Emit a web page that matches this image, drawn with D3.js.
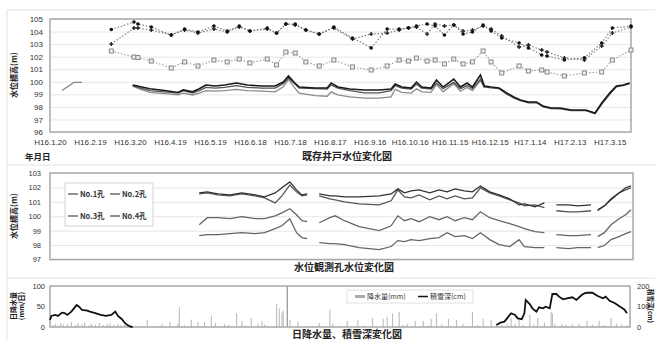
<!DOCTYPE html>
<html><head><meta charset="utf-8">
<script src="https://cdn.jsdelivr.net/npm/d3@7"></script>
<style>
body{margin:0;background:#fff;}
svg{display:block;font-family:"Liberation Sans",Arial,sans-serif;}
.jp{font-family:"Noto Sans CJK JP",sans-serif;}
</style></head><body>
<svg id="c" width="655" height="340"></svg>
<script>
// ---- shared time axis ----
const tickDates = ["2004-01-20","2004-02-19","2004-03-20","2004-04-19","2004-05-19","2004-06-18","2004-07-18","2004-08-17","2004-09-16","2004-10-16","2004-11-15","2004-12-15","2005-01-14","2005-02-13","2005-03-15"];
const tickLabels = ["H16.1.20","H16.2.19","H16.3.20","H16.4.19","H16.5.19","H16.6.18","H16.7.18","H16.8.17","H16.9.16","H16.10.16","H16.11.15","H16.12.15","H17.1.14","H17.2.13","H17.3.15"];

// ---- existing wells: periodic readings (m) ----
const wellDates = ["2004-03-06","2004-03-23","2004-03-26","2004-04-05","2004-04-20","2004-04-30","2004-05-10","2004-05-22","2004-06-01","2004-06-10","2004-06-18","2004-07-01","2004-07-08","2004-07-15","2004-07-22","2004-07-30","2004-08-09","2004-08-20","2004-09-03","2004-09-17","2004-09-29","2004-10-08","2004-10-15","2004-10-21","2004-10-29","2004-11-04","2004-11-11","2004-11-18","2004-11-25","2004-12-02","2004-12-10","2004-12-16","2004-12-24","2005-01-06","2005-01-13","2005-01-23","2005-01-27","2005-02-09","2005-02-24","2005-03-09","2005-03-17","2005-03-31"];
const wellA = [104.16,104.76,104.6,104.36,103.73,104.2,103.96,104.44,104.04,104.44,104.04,104.28,103.88,104.6,104.6,104.12,103.8,104.36,103.49,102.7,104.2,104.2,104.3,104.44,104.6,104.44,103.73,104.52,103.8,103.96,104.52,104.04,103.49,103.09,102.7,102.13,102.05,101.73,101.9,103.09,104.28,104.44];
const wellB = [103.0,104.28,104.28,104.12,103.73,104.12,103.88,104.2,103.96,104.36,104.04,104.2,103.88,104.6,104.52,104.12,103.8,104.28,103.41,103.8,103.88,104.12,104.28,104.36,103.8,104.6,104.44,104.52,104.04,104.12,104.44,104.2,103.65,102.77,102.93,102.53,102.37,101.9,101.73,102.85,103.88,104.36];
const wellC = [102.45,101.97,101.93,101.65,101.1,101.58,101.26,101.73,101.58,101.81,101.5,101.81,101.34,102.37,102.29,101.58,101.26,101.73,101.18,100.94,101.26,101.73,101.65,101.89,101.65,101.73,101.42,101.81,101.42,101.58,102.45,101.58,100.7,101.26,100.86,100.94,100.78,100.46,100.7,100.78,101.73,102.53];

// ---- existing wells: continuous records (m) ----
const contDates = ["2004-03-22","2004-03-28","2004-04-04","2004-04-15","2004-04-25","2004-04-29","2004-05-06","2004-05-11","2004-05-16","2004-05-23","2004-05-30","2004-06-08","2004-06-16","2004-06-27","2004-07-07","2004-07-13","2004-07-17","2004-07-21","2004-07-25","2004-08-06","2004-08-15","2004-08-18","2004-08-23","2004-09-01","2004-09-12","2004-09-23","2004-10-02","2004-10-05","2004-10-10","2004-10-17","2004-10-21","2004-10-25","2004-11-01","2004-11-05","2004-11-10","2004-11-18","2004-11-23","2004-11-28","2004-12-02","2004-12-08","2004-12-11","2004-12-16","2004-12-22","2004-12-28","2005-01-02","2005-01-07","2005-01-13","2005-01-19","2005-01-24","2005-01-30","2005-02-06","2005-02-14","2005-02-25","2005-03-04","2005-03-09","2005-03-15","2005-03-20","2005-03-25","2005-03-30"];
const contW1 = [99.74,99.6,99.45,99.3,99.15,99.35,99.2,99.45,99.74,99.66,99.74,99.9,99.74,99.66,99.66,99.98,100.46,99.98,99.58,99.5,99.5,99.9,99.58,99.42,99.35,99.35,99.42,99.82,99.58,99.5,99.98,99.58,99.5,100.14,99.58,100.22,99.58,99.9,99.58,100.54,99.66,99.58,99.5,99.1,98.79,98.55,98.39,98.39,98.07,97.91,97.91,97.75,97.75,97.51,98.31,99.1,99.66,99.74,99.9];
const contW2 = [99.7,99.5,99.3,99.2,99.1,99.3,99.1,99.3,99.55,99.5,99.55,99.7,99.55,99.5,99.5,99.85,100.3,99.9,99.5,99.45,99.42,99.75,99.5,99.3,99.12,99.12,99.3,99.7,99.5,99.42,99.8,99.5,99.42,99.9,99.45,99.95,99.45,99.7,99.45,100.2,99.6,99.52,99.45,99.0,98.72,98.5,98.32,98.35,98.0,97.86,97.85,97.7,97.7,97.45,98.2,99.0,99.6,99.7,99.85];
const contW3 = [99.65,99.4,99.15,99.05,98.95,99.1,98.95,99.1,99.3,99.25,99.3,99.4,99.3,99.25,99.2,99.6,100.2,99.6,99.1,98.9,98.85,99.2,98.95,98.8,98.7,98.7,98.8,99.4,99.15,99.1,99.45,99.2,99.15,99.8,99.2,99.85,99.25,99.55,99.3,100.1,99.5,null,null,null,null,null,null,null,null,null,null,null,null,null,null,null,null,null,null];
const earlyDates = ["2004-01-29","2004-02-07","2004-02-13"];
const earlyVals = [99.3,99.95,99.95];

// ---- observation boreholes (m); null = no record ----
const boreDates = ["2004-05-11","2004-05-17","2004-05-25","2004-06-03","2004-06-12","2004-06-22","2004-06-29","2004-07-07","2004-07-12","2004-07-18","2004-07-23","2004-07-27","2004-07-31","2004-08-05","2004-08-09","2004-08-17","2004-08-21","2004-08-28","2004-09-08","2004-09-23","2004-10-02","2004-10-07","2004-10-12","2004-10-17","2004-10-23","2004-10-31","2004-11-07","2004-11-13","2004-11-19","2004-11-26","2004-12-02","2004-12-08","2004-12-15","2004-12-22","2004-12-30","2005-01-06","2005-01-10","2005-01-18","2005-01-25","2005-01-29","2005-02-03","2005-02-12","2005-02-19","2005-03-01","2005-03-03","2005-03-06","2005-03-11","2005-03-16","2005-03-22","2005-03-27","2005-03-31"];
const bore1 = [101.62,101.69,101.55,101.48,101.62,101.48,101.34,101.62,101.97,102.38,101.83,101.48,101.55,null,101.55,101.41,101.41,101.34,101.34,101.41,101.55,101.9,101.62,101.76,101.83,101.62,101.83,101.69,101.9,101.76,101.69,102.1,101.69,101.48,101.21,100.79,100.86,100.66,100.93,null,100.79,100.79,100.72,100.79,null,100.45,100.72,101.14,101.62,101.97,102.1];
const bore2 = [101.55,101.62,101.48,101.41,101.55,101.41,101.28,100.93,101.41,102.17,101.69,101.41,101.48,null,101.41,101.21,101.14,101.0,100.86,100.79,101.07,101.83,101.34,101.28,101.48,101.14,101.41,101.21,101.41,101.21,101.28,101.97,101.62,101.41,101.14,100.93,100.72,100.79,100.59,null,100.38,100.31,100.31,100.38,null,100.38,100.72,101.21,101.62,101.83,101.97];
const bore3 = [99.41,99.9,99.9,99.83,99.97,99.83,99.83,100.03,100.24,100.52,100.1,99.69,99.62,null,99.55,99.9,100.03,99.69,99.28,99.0,99.34,100.03,99.69,99.83,99.62,99.97,99.76,99.97,99.69,99.9,99.76,100.31,99.9,99.69,99.48,99.28,99.14,98.93,98.86,null,98.72,98.66,98.66,98.72,null,98.59,98.86,99.41,99.83,100.1,100.45];
const bore4 = [98.66,98.72,98.72,98.79,98.86,98.79,98.86,99.14,99.34,99.83,98.86,98.52,98.45,null,98.17,98.1,98.1,98.03,97.83,97.69,97.9,98.31,98.24,98.38,98.31,98.45,98.52,98.86,98.59,98.66,98.45,98.86,98.38,98.03,97.9,98.38,97.9,97.83,97.83,null,97.83,97.76,97.83,97.83,null,97.83,97.97,98.38,98.59,98.79,98.93];
const boreNames = ["No.1孔","No.2孔","No.3孔","No.4孔"];

// ---- daily precipitation (mm) on rain days ----
const rainDates = ["2004-01-22","2004-01-24","2004-01-26","2004-01-28","2004-01-30","2004-02-02","2004-02-05","2004-02-08","2004-02-10","2004-02-13","2004-02-15","2004-02-18","2004-02-20","2004-02-23","2004-02-26","2004-02-29","2004-03-03","2004-03-05","2004-03-08","2004-03-11","2004-03-13","2004-03-16","2004-03-19","2004-04-02","2004-04-08","2004-04-13","2004-04-19","2004-04-25","2004-04-26","2004-04-30","2004-05-05","2004-05-10","2004-05-15","2004-05-20","2004-05-23","2004-05-30","2004-06-02","2004-06-08","2004-06-12","2004-06-15","2004-06-19","2004-06-24","2004-06-27","2004-06-29","2004-07-01","2004-07-08","2004-07-10","2004-07-12","2004-07-13","2004-07-16","2004-07-18","2004-07-24","2004-08-03","2004-08-09","2004-08-17","2004-08-19","2004-08-25","2004-08-30","2004-09-07","2004-09-12","2004-09-18","2004-09-26","2004-09-29","2004-10-03","2004-10-08","2004-10-11","2004-10-14","2004-10-20","2004-10-26","2004-10-30","2004-11-01","2004-11-05","2004-11-09","2004-11-14","2004-11-20","2004-11-25","2004-12-02","2004-12-06","2004-12-10","2004-12-16","2004-12-20","2004-12-24","2004-12-28","2004-12-31","2005-01-03","2005-01-06","2005-01-09","2005-01-14","2005-01-17","2005-01-20","2005-01-25","2005-01-30","2005-01-31","2005-02-02","2005-02-07","2005-02-10","2005-02-15","2005-02-20","2005-02-26","2005-03-02","2005-03-07","2005-03-11","2005-03-16","2005-03-20","2005-03-24","2005-03-28"];
const rainMm = [5,8,4,10,6,7,12,5,9,6,11,4,8,6,10,5,7,9,5,8,4,6,3,17,3,8,12,8,48,4,18,12,12,28,10,7,5,33,15,4,22,8,14,6,3,57,45,35,40,100,17,13,2,10,42,8,3,15,17,4,22,20,25,33,37,5,8,15,15,3,20,33,6,20,17,8,37,5,20,17,6,4,6,22,8,17,5,30,6,22,10,37,33,7,8,5,6,8,15,6,15,5,22,9,6,4];

// ---- snow depth (cm) ----
const snowDates1 = ["2004-01-20","2004-01-21","2004-01-24","2004-01-26","2004-01-29","2004-01-31","2004-02-02","2004-02-05","2004-02-09","2004-02-11","2004-02-13","2004-02-17","2004-02-19","2004-02-23","2004-02-27","2004-03-02","2004-03-06","2004-03-09","2004-03-11","2004-03-14","2004-03-16","2004-03-18","2004-03-21","2004-03-22"];
const snowCm1 = [34,54,59,54,70,68,59,75,107,98,83,80,75,68,59,54,59,75,54,38,21,10,1,0];
const snowDates2 = ["2004-12-20","2004-12-23","2004-12-26","2004-12-28","2004-12-31","2005-01-03","2005-01-05","2005-01-08","2005-01-10","2005-01-11","2005-01-14","2005-01-16","2005-01-19","2005-01-21","2005-01-24","2005-01-26","2005-01-29","2005-01-31","2005-02-03","2005-02-05","2005-02-08","2005-02-11","2005-02-15","2005-02-18","2005-02-22","2005-02-24","2005-02-26","2005-03-02","2005-03-06","2005-03-10","2005-03-12","2005-03-15","2005-03-19","2005-03-22","2005-03-26","2005-03-28"];
const snowCm2 = [10,21,26,42,67,59,42,38,67,132,112,91,75,96,91,99,91,161,161,148,135,140,145,132,156,164,167,167,151,140,148,128,116,102,86,67];

// ---------------------------------------------------------------
const P = d3.timeParse("%Y-%m-%d");
const zip = (ds, vs) => ds.map((d, i) => ({d: P(d), v: vs[i]}));
const svg = d3.select("#c");
const x = d3.scaleTime().domain([P("2004-01-20"), P("2005-03-31")]).range([50, 631]);

// panel frames
const fr = svg.append("g").attr("fill", "none").attr("stroke", "#e2e2e2");
fr.append("path").attr("d", "M7,340V10H655");
fr.append("path").attr("d", "M7,165H655");
fr.append("path").attr("d", "M7,278H655");

function panel(y, ticks, x0, x1, pad, fs) {
  const g = svg.append("g");
  g.append("g").attr("transform", `translate(${x0},0)`)
    .call(d3.axisLeft(y).tickValues(ticks).tickSize(-(x1 - x0)).tickFormat(""))
    .call(a => { a.select(".domain").remove(); a.selectAll("line").attr("stroke", "#e6e6e6"); });
  g.append("g").attr("transform", `translate(${x0},0)`)
    .call(d3.axisLeft(y).tickValues(ticks).tickSize(0).tickPadding(pad).tickFormat(d3.format("d")))
    .call(a => { a.select(".domain").remove();
      a.selectAll("text").attr("font-size", fs).attr("fill", "#333")
        .attr("font-family", "'Liberation Sans',Arial,sans-serif"); });
  return g;
}
function border(x0, y0, x1, y1) {
  svg.append("rect").attr("x", x0).attr("y", y0).attr("width", x1 - x0).attr("height", y1 - y0)
    .attr("fill", "none").attr("stroke", "#a8a8a8").attr("stroke-width", 1.5);
}
function jpText(t, xx, yy, fs, opts = {}) {
  const e = svg.append("text").attr("class", "jp").attr("x", xx).attr("y", yy)
    .attr("font-size", fs).attr("fill", opts.fill || "#222")
    .attr("font-weight", opts.weight || "bold")
    .attr("text-anchor", opts.anchor || "middle").text(t);
  if (opts.rot) e.attr("transform", `rotate(${opts.rot},${xx},${yy})`);
  return e;
}

// ===== top: existing wells =====
const yT = d3.scaleLinear().domain([96, 105]).range([132, 19]);
panel(yT, d3.range(96, 106), 50, 631, 7, 8);
border(50, 19, 631, 132);

svg.append("g").attr("transform", "translate(0,132)")
  .call(d3.axisBottom(x).tickValues(tickDates.map(P)).tickFormat((d, i) => tickLabels[i]).tickSize(0).tickPadding(7))
  .call(a => { a.select(".domain").remove();
    a.selectAll("text").attr("font-size", 8).attr("fill", "#333"); });

const lineT = d3.line().defined(d => d.v != null).x(d => x(d.d)).y(d => yT(d.v));
const dotted = [[wellA, "#777"], [wellB, "#777"], [wellC, "#999"]];
dotted.forEach(([vals, col]) => {
  svg.append("path").datum(zip(wellDates, vals)).attr("d", lineT)
    .attr("fill", "none").attr("stroke", col).attr("stroke-width", 1.1).attr("stroke-dasharray", "1.5,1.8");
});
const solid = [[contW3, "#8a8a8a", 1.3], [contW2, "#555", 1.3], [contW1, "#1a1a1a", 1.6]];
solid.forEach(([vals, col, w]) => {
  svg.append("path").datum(zip(contDates, vals)).attr("d", lineT)
    .attr("fill", "none").attr("stroke", col).attr("stroke-width", w);
});
svg.append("path").datum(zip(earlyDates, earlyVals)).attr("d", lineT)
  .attr("fill", "none").attr("stroke", "#888").attr("stroke-width", 1.3);

// markers
svg.append("g").selectAll("rect").data(zip(wellDates, wellC)).join("rect")
  .attr("x", d => x(d.d) - 2).attr("y", d => yT(d.v) - 2).attr("width", 4).attr("height", 4)
  .attr("fill", "#eee").attr("stroke", "#888").attr("stroke-width", 1);
svg.append("g").selectAll("path").data(zip(wellDates, wellB)).join("path")
  .attr("transform", d => `translate(${x(d.d)},${yT(d.v)})`)
  .attr("d", d3.symbol(d3.symbolCross, 9)).attr("fill", "#222");
svg.append("g").selectAll("circle").data(zip(wellDates, wellA)).join("circle")
  .attr("cx", d => x(d.d)).attr("cy", d => yT(d.v)).attr("r", 1.8).attr("fill", "#111");

jpText("水位標高(m)", 17, 75, 8, {rot: -90});
jpText("年月日", 25, 160, 8.5, {anchor: "start"});
jpText("既存井戸水位変化図", 347, 160, 10);

// ===== middle: observation boreholes =====
const yM = d3.scaleLinear().domain([97, 103]).range([259.5, 173]);
panel(yM, d3.range(97, 104), 50, 633, 9, 7.5);
border(50, 173, 633, 259.5);
const lineM = d3.line().defined(d => d.v != null).x(d => x(d.d)).y(d => yM(d.v));
const bores = [bore4, bore3, bore2, bore1];
const boreCols = ["#666", "#666", "#555", "#333"];
bores.forEach((vals, i) => {
  svg.append("path").datum(zip(boreDates, vals)).attr("d", lineM)
    .attr("fill", "none").attr("stroke", boreCols[i]).attr("stroke-width", 1.3);
});
// legend
const lg = svg.append("g");
lg.append("rect").attr("x", 65).attr("y", 183).attr("width", 88).attr("height", 43)
  .attr("fill", "#fff").attr("stroke", "#d4d4d4");
boreNames.forEach((n, i) => {
  const lx = 68 + (i % 2) * 42, ly = 194 + Math.floor(i / 2) * 22;
  lg.append("line").attr("x1", lx).attr("x2", lx + 10).attr("y1", ly).attr("y2", ly)
    .attr("stroke", "#555").attr("stroke-width", 1.3);
  lg.append("text").attr("class", "jp").attr("x", lx + 12).attr("y", ly + 3)
    .attr("font-size", 7.5).attr("font-weight", "bold").attr("fill", "#333").text(n);
});
jpText("水位標高(m)", 17, 216, 8, {rot: -90});
jpText("水位観測孔水位変化図", 344, 271, 10);

// ===== bottom: precipitation & snow depth =====
const yR = d3.scaleLinear().domain([0, 100]).range([327, 286]);
const yS = d3.scaleLinear().domain([0, 200]).range([327, 286]);
svg.append("g").attr("transform", "translate(50,0)")
  .call(d3.axisLeft(yR).tickValues([0, 50, 100]).tickSize(0).tickPadding(5))
  .call(a => { a.select(".domain").remove(); a.selectAll("text").attr("font-size", 7.5).attr("fill", "#333"); });
svg.append("g").attr("transform", "translate(630,0)")
  .call(d3.axisRight(yS).tickValues([0, 100, 200]).tickSize(0).tickPadding(7))
  .call(a => { a.select(".domain").remove(); a.selectAll("text").attr("font-size", 7.5).attr("fill", "#333"); });

svg.append("g").selectAll("rect").data(zip(rainDates, rainMm)).join("rect")
  .attr("x", d => x(d.d) - 0.5).attr("width", 1.1)
  .attr("y", d => yR(Math.min(d.v, 100))).attr("height", d => 327 - yR(Math.min(d.v, 100)))
  .attr("fill", d => d.v >= 100 ? "#888" : "#bcbcbc");
border(50, 286, 630, 327);
const lineS = d3.line().x(d => x(d.d)).y(d => yS(d.v));
[[snowDates1, snowCm1], [snowDates2, snowCm2]].forEach(([ds, vs]) => {
  svg.append("path").datum(zip(ds, vs)).attr("d", lineS)
    .attr("fill", "none").attr("stroke", "#111").attr("stroke-width", 1.8);
});
// legend
const lb = svg.append("g");
lb.append("rect").attr("x", 347).attr("y", 290).attr("width", 126).attr("height", 13)
  .attr("fill", "#fff").attr("stroke", "#e0e0e0");
lb.append("line").attr("x1", 355).attr("x2", 365).attr("y1", 296.5).attr("y2", 296.5)
  .attr("stroke", "#aaa").attr("stroke-width", 3);
lb.append("text").attr("class", "jp").attr("x", 367).attr("y", 299).attr("font-size", 7).attr("fill", "#333").text("降水量(mm)");
lb.append("line").attr("x1", 418).attr("x2", 428).attr("y1", 296.5).attr("y2", 296.5)
  .attr("stroke", "#111").attr("stroke-width", 1.5);
lb.append("text").attr("class", "jp").attr("x", 430).attr("y", 299).attr("font-size", 7).attr("fill", "#333").text("積雪深(cm)");

jpText("日降水量", 16, 306, 7, {rot: -90});
jpText("(mm/日)", 24, 306, 7, {rot: -90});
jpText("積雪深(cm)", 648, 306, 6.5, {rot: 90});
jpText("日降水量、積雪深変化図", 347, 338, 10);
</script>
</body></html>
